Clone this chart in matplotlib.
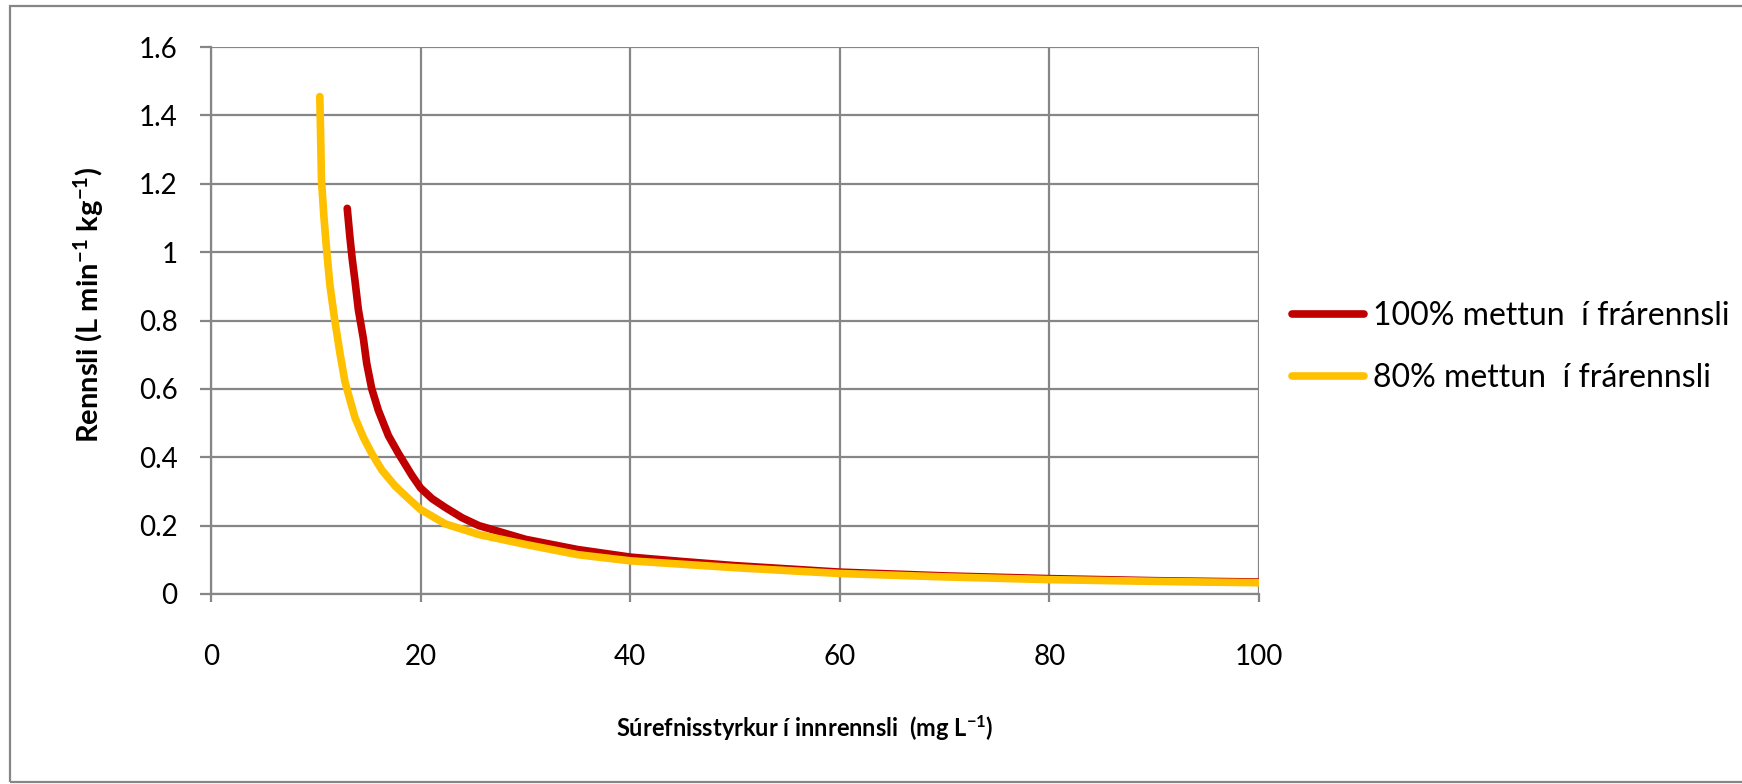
import matplotlib
matplotlib.use("Agg")
import matplotlib.pyplot as plt
from matplotlib.patches import Rectangle

plt.rcParams['font.family'] = ['Lato', 'DejaVu Sans']
plt.rcParams['mathtext.default'] = 'regular'

# 100% mettun
x100 = [13.0, 13.26, 13.48, 13.74, 14.06, 14.54, 14.86, 15.34, 15.97, 16.93, 17.89, 19.17, 20.0,
        21.09, 22.36, 23.96, 25.56, 30, 35, 40, 45, 50, 60, 70, 80, 90, 100]
y100 = [1.128, 1.042, 0.979, 0.916, 0.832, 0.747, 0.674, 0.600, 0.537, 0.463, 0.411, 0.347, 0.310,
        0.279, 0.253, 0.223, 0.200, 0.160, 0.130, 0.108, 0.095, 0.083, 0.064, 0.053, 0.045, 0.039, 0.035]
# 80% mettun
x80 = [10.38, 10.45, 10.54, 10.77, 11.02, 11.34, 11.76, 12.30, 12.78, 13.26, 13.74, 14.54, 15.34,
       16.29, 17.57, 18.85, 20.0, 22.36, 25.56, 30, 35, 40, 45, 50, 60, 70, 80, 90, 100]
y80 = [1.455, 1.358, 1.211, 1.105, 1.011, 0.905, 0.811, 0.705, 0.621, 0.568, 0.516, 0.458, 0.411,
       0.363, 0.316, 0.279, 0.247, 0.205, 0.174, 0.145, 0.115, 0.097, 0.087, 0.077, 0.060, 0.050, 0.042,
       0.037, 0.033]

xticks = [0, 20, 40, 60, 80, 100]
yticks = [0, 0.2, 0.4, 0.6, 0.8, 1, 1.2, 1.4, 1.6]
ylabels = ["0", "0.2", "0.4", "0.6", "0.8", "1", "1.2", "1.4", "1.6"]

W, H = 1742, 784
fig = plt.figure(figsize=(W / 100, H / 100), dpi=100)
ax = fig.add_axes([211 / W, 1 - 594 / H, (1259 - 211) / W, (594 - 47) / H])

grey = '#868686'
l1, = ax.plot(x100, y100, color='#C00000', lw=5.5, solid_capstyle='round', solid_joinstyle='round',
              label='100% mettun  í frárennsli')
l2, = ax.plot(x80, y80, color='#FFC000', lw=5.5, solid_capstyle='round', solid_joinstyle='round',
              label='80% mettun  í frárennsli')

ax.set_xlim(0, 100)
ax.set_ylim(0, 1.6)
ax.set_xticks(xticks)
ax.set_yticks(yticks)
ax.set_yticklabels(ylabels)
ax.grid(True, color=grey, lw=1.6)
ax.set_axisbelow(True)
for s in ['top', 'right']:
    ax.spines[s].set_visible(False)
for s in ['left', 'bottom']:
    ax.spines[s].set_color(grey)
    ax.spines[s].set_linewidth(1.6)
ax.tick_params(axis='y', length=8, width=1.6, color=grey, pad=16, labelsize=20)
ax.tick_params(axis='x', length=6, width=1.6, color=grey, pad=30, labelsize=20)

ax.set_ylabel('Rennsli (L min$^{-1}$ kg$^{-1}$)', fontsize=21, fontweight='bold',
              ha='center', va='center')
ax.yaxis.set_label_coords((89 - 211) / 1048, (594 - 305) / 547)
ax.set_xlabel('Súrefnisstyrkur í innrennsli  (mg L$^{-1}$)', fontsize=17, fontweight='bold',
              ha='center', va='center')
ax.xaxis.set_label_coords((805 - 211) / 1048, (594 - 728) / 547)

ax.legend(handles=[l1, l2], loc='center left', bbox_to_anchor=(1292 / W, 1 - 347 / H),
          bbox_transform=fig.transFigure, frameon=False, borderpad=0, borderaxespad=0,
          fontsize=23, handlelength=2.25, handletextpad=0.27, labelspacing=1.0)

fig.add_artist(Rectangle((10 / W, 2 / H), 1.2, 1 - 8 / H, transform=fig.transFigure,
                         fill=False, edgecolor=grey, lw=1.6))

fig.savefig('out.png', dpi=100)
